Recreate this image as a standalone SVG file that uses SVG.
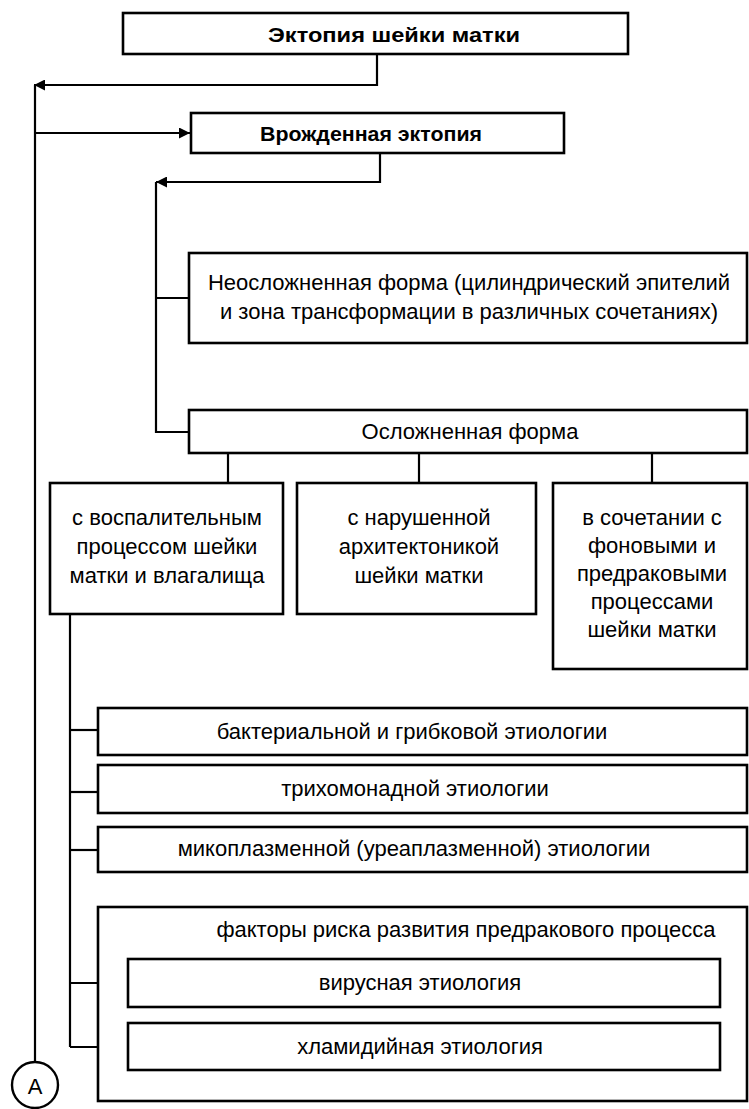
<svg xmlns="http://www.w3.org/2000/svg" width="749" height="1109" viewBox="0 0 749 1109">
<defs>
<style>
.box{fill:#fff;stroke:#000;stroke-width:2.6}
.ln{fill:none;stroke:#000;stroke-width:2.2}
.t{font-family:"Liberation Sans",Arial,sans-serif;font-size:22px;fill:#000;text-anchor:middle}
.b{font-weight:bold;font-size:21px}
</style>
<marker id="ah" viewBox="0 0 10 10" refX="10" refY="5" markerWidth="5" markerHeight="5" orient="auto" markerUnits="strokeWidth">
<path d="M0,0 L10,5 L0,10 z" fill="#000"/>
</marker>
</defs>
<rect width="749" height="1109" fill="#fff"/>
<g id="connectors">
<path class="ln" d="M377,53 V85 H34" marker-end="url(#ah)"/>
<path class="ln" d="M35,85 V1062"/>
<path class="ln" d="M35,133 H190" marker-end="url(#ah)"/>
<path class="ln" d="M380,153 V182 H156" marker-end="url(#ah)"/>
<path class="ln" d="M156,182 V432 H189"/>
<path class="ln" d="M156,298 H189"/>
<path class="ln" d="M228,453 V483"/>
<path class="ln" d="M419,453 V483"/>
<path class="ln" d="M652,453 V483"/>
<path class="ln" d="M70,614 V1047"/>
<path class="ln" d="M70,730 H98"/>
<path class="ln" d="M70,792 H98"/>
<path class="ln" d="M70,850 H98"/>
<path class="ln" d="M70,983 H128"/>
<path class="ln" d="M70,1047 H128"/>
</g>
<g id="n-ectopia">
<rect class="box" x="123" y="13" width="505" height="41"/>
<text class="t b" x="394" y="42" textLength="252" lengthAdjust="spacingAndGlyphs">Эктопия шейки матки</text>
</g>
<g id="n-congenital">
<rect class="box" x="191" y="113" width="373" height="40"/>
<text class="t b" x="371" y="141" textLength="222" lengthAdjust="spacingAndGlyphs">Врожденная эктопия</text>
</g>
<g id="n-uncomplicated">
<rect class="box" x="189" y="253" width="558" height="90"/>
<text class="t" x="469" y="290">Неосложненная форма (цилиндрический эпителий</text>
<text class="t" x="469" y="319">и зона трансформации в различных сочетаниях)</text>
</g>
<g id="n-complicated">
<rect class="box" x="189" y="410" width="558" height="43"/>
<text class="t" x="470" y="439">Осложненная форма</text>
</g>
<g id="n-inflam">
<rect class="box" x="50" y="483" width="233" height="131"/>
<text class="t" x="167" y="525">с воспалительным</text>
<text class="t" x="167" y="554">процессом шейки</text>
<text class="t" x="167" y="583">матки и влагалища</text>
</g>
<g id="n-arch">
<rect class="box" x="297" y="483" width="239" height="131"/>
<text class="t" x="419" y="525">с нарушенной</text>
<text class="t" x="419" y="554">архитектоникой</text>
<text class="t" x="419" y="583">шейки матки</text>
</g>
<g id="n-combined">
<rect class="box" x="553" y="483" width="194" height="186"/>
<text class="t" x="652" y="525">в сочетании с</text>
<text class="t" x="652" y="553">фоновыми и</text>
<text class="t" x="652" y="581">предраковыми</text>
<text class="t" x="652" y="609">процессами</text>
<text class="t" x="652" y="637">шейки матки</text>
</g>
<g id="n-bact">
<rect class="box" x="98" y="708" width="649" height="47"/>
<text class="t" x="412" y="739">бактериальной и грибковой этиологии</text>
</g>
<g id="n-trich">
<rect class="box" x="98" y="765" width="649" height="48"/>
<text class="t" x="415" y="796">трихомонадной этиологии</text>
</g>
<g id="n-myco">
<rect class="box" x="98" y="827" width="649" height="45"/>
<text class="t" x="414" y="856">микоплазменной (уреаплазменной) этиологии</text>
</g>
<g id="n-risk">
<rect class="box" x="98" y="907" width="649" height="194"/>
<text class="t" x="466" y="937">факторы риска развития предракового процесса</text>
</g>
<g id="n-viral">
<rect class="box" x="128" y="959" width="592" height="48"/>
<text class="t" x="420" y="990">вирусная этиология</text>
</g>
<g id="n-chlam">
<rect class="box" x="128" y="1023" width="592" height="47"/>
<text class="t" x="420" y="1054">хламидийная этиология</text>
</g>
<g id="n-A">
<circle cx="35" cy="1085" r="23" fill="#fff" stroke="#000" stroke-width="2.4"/>
<text class="t" x="35" y="1094" font-size="25">A</text>
</g>
</svg>
